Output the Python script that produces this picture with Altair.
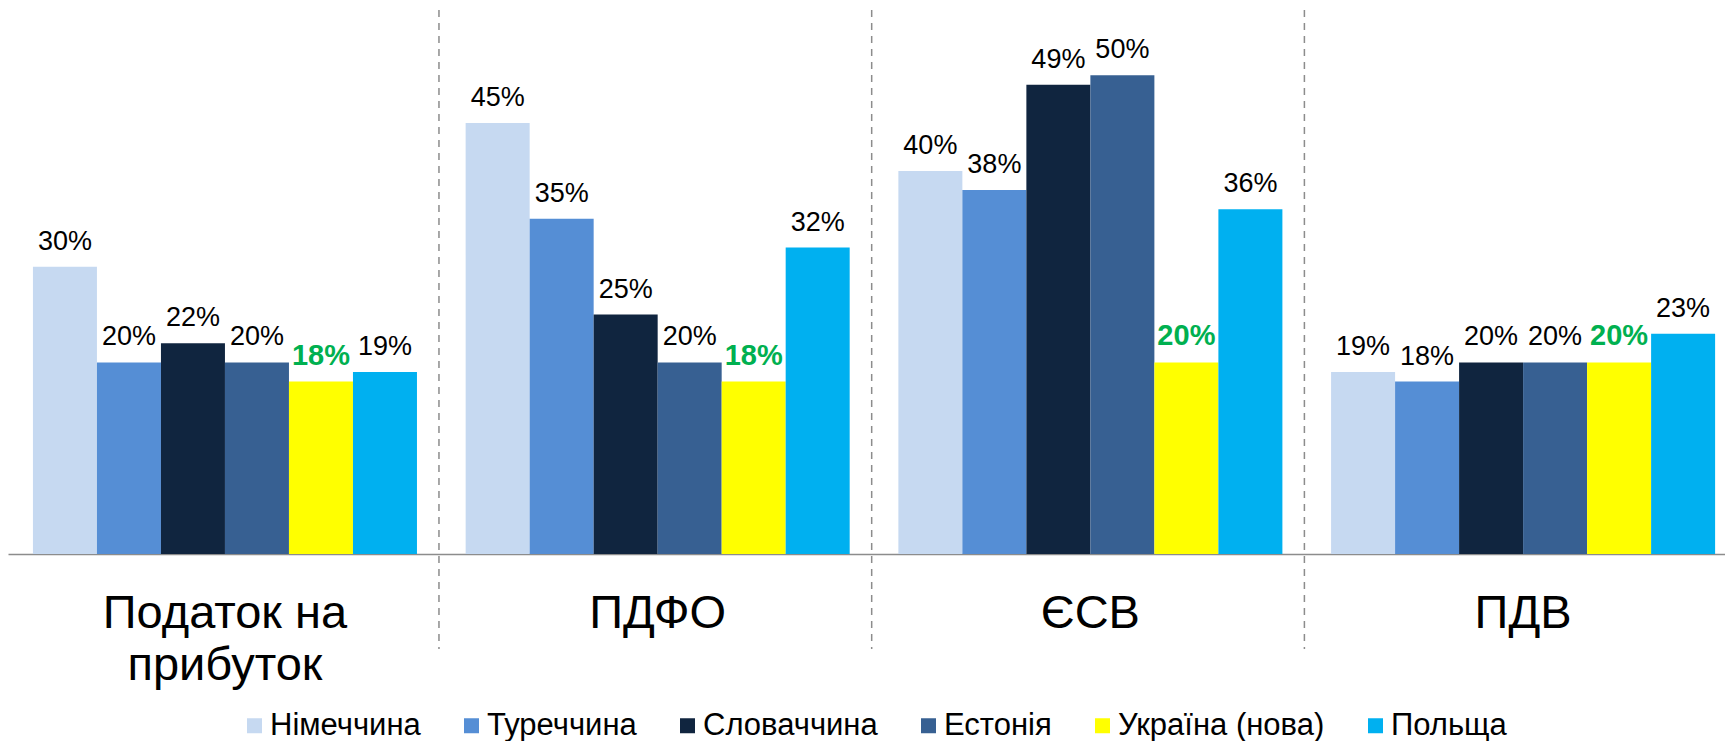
import altair as alt
import pandas as pd

categories = ["Податок на прибуток", "ПДФО", "ЄСВ", "ПДВ"]
countries = ["Німеччина", "Туреччина", "Словаччина", "Естонія", "Україна (нова)", "Польща"]
colors = ["#C6D9F1", "#558ED5", "#10253F", "#376092", "#FFFF00", "#00B0F0"]
profit_tax = [30, 20, 22, 20, 18, 19]
pit = [45, 35, 25, 20, 18, 32]
ssc = [40, 38, 49, 50, 20, 36]
vat = [19, 18, 20, 20, 20, 23]
highlight = "Україна (нова)"

rows = []
for cat, vals in zip(categories, [profit_tax, pit, ssc, vat]):
    for c, v in zip(countries, vals):
        rows.append({"cat": cat, "country": c, "value": v, "label": f"{v}%"})
df = pd.DataFrame(rows)
sep = pd.DataFrame({"cat": categories[:3]})

FONT = "Liberation Sans"
W, H = 1717, 544

xscale = alt.Scale(domain=categories, paddingInner=0.1125, paddingOuter=0.04025,
                   align=0.716, round=False)
xaxis = alt.Axis(title=None, labelAngle=0, ticks=False, tickSize=0, labelPadding=36,
                 labelFontSize=47, labelFont=FONT, labelColor="black", labelLineHeight=52,
                 labelLimit=800, domainColor="#8c8c8c", domainWidth=1.5, grid=False,
                 labelExpr="datum.label == 'Податок на прибуток' ? ['Податок на', 'прибуток'] : datum.label")
x = alt.X("cat:N", scale=xscale, axis=xaxis)
xo = alt.XOffset("country:N", sort=countries,
                 scale=alt.Scale(domain=countries, paddingInner=0, paddingOuter=0))
y = alt.Y("value:Q", scale=alt.Scale(domain=[0, 56.8], nice=False, zero=True), axis=None)

bars = alt.Chart(df).mark_bar().encode(
    x=x, xOffset=xo, y=y,
    color=alt.Color("country:N", sort=countries,
                    scale=alt.Scale(domain=countries, range=colors),
                    legend=alt.Legend(title=None, orient="none", legendX=231, legendY=700,
                                      direction="horizontal", symbolType="square",
                                      symbolSize=225, symbolStrokeWidth=0,
                                      labelFontSize=31, labelFont=FONT, labelColor="black",
                                      labelOffset=0, columnPadding=35, labelLimit=400)),
)

labels = alt.Chart(df).transform_filter(f"datum.country != '{highlight}'").mark_text(
    dy=-17, baseline="alphabetic", fontSize=27, font=FONT, color="black"
).encode(x=x, xOffset=xo, y=y, text="label:N")

labels_hl = alt.Chart(df).transform_filter(f"datum.country == '{highlight}'").mark_text(
    dy=-17, baseline="alphabetic", fontSize=29, font=FONT, fontWeight="bold", color="#00B050"
).encode(x=x, xOffset=xo, y=y, text="label:N")

rules = alt.Chart(sep).mark_rule(
    strokeDash=[7, 6], color="#8c8c8c", strokeWidth=1.5, xOffset=22
).encode(
    x=alt.X("cat:N", scale=xscale, axis=xaxis, bandPosition=1),
    y=alt.value(0), y2=alt.value(639),
)

chart = alt.layer(bars, rules, labels, labels_hl).properties(
    width=W, height=H, padding={"left": 0, "top": 1, "right": 0, "bottom": 0}
).configure_view(stroke=None)

chart.save("out.html", embed_options={"renderer": "svg", "actions": False})
